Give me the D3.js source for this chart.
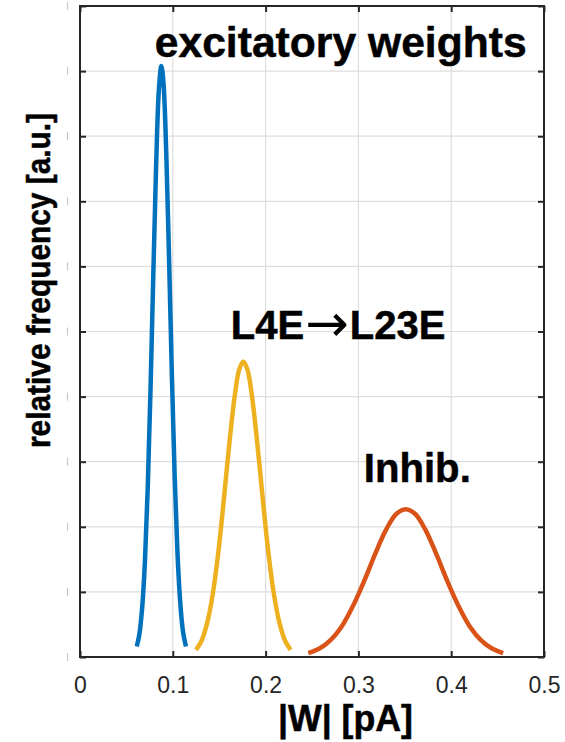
<!DOCTYPE html>
<html>
<head>
<meta charset="utf-8">
<script src="https://cdn.jsdelivr.net/npm/d3@7"></script>
<style>
  body { margin: 0; background: #fff; }
  svg { display: block; }
  text { font-family: "Liberation Sans", Arial, Helvetica, sans-serif; }
</style>
</head>
<body>
<svg id="chart" width="565" height="742"></svg>
<script>
// ---- data ----
const xTicks = [0, 0.1, 0.2, 0.3, 0.4, 0.5];
const xTickLabels = ["0", "0.1", "0.2", "0.3", "0.4", "0.5"];
const yTicks = [0, 0.1, 0.2, 0.3, 0.4, 0.5, 0.6, 0.7, 0.8, 0.9, 1];

const excX = [0.0612, 0.064, 0.067, 0.070, 0.073, 0.076, 0.079, 0.082, 0.085, 0.0877, 0.090, 0.093, 0.096, 0.099, 0.102, 0.105, 0.108, 0.111, 0.1142];
const excY = [0.016, 0.035, 0.076, 0.148, 0.260, 0.412, 0.587, 0.753, 0.871, 0.908, 0.881, 0.772, 0.610, 0.434, 0.278, 0.161, 0.084, 0.039, 0.016];

const l4X = [0.125, 0.131, 0.137, 0.143, 0.149, 0.155, 0.161, 0.167, 0.1715, 0.176, 0.1805, 0.185, 0.191, 0.197, 0.203, 0.209, 0.215, 0.221, 0.227];
const l4Y = [0.011, 0.025, 0.052, 0.096, 0.160, 0.242, 0.329, 0.404, 0.441, 0.454, 0.441, 0.404, 0.329, 0.242, 0.160, 0.096, 0.052, 0.025, 0.011];

const inhX = [0.246, 0.258, 0.270, 0.282, 0.294, 0.306, 0.318, 0.330, 0.341, 0.351, 0.361, 0.372, 0.384, 0.396, 0.408, 0.420, 0.432, 0.444, 0.456];
const inhY = [0.006, 0.013, 0.026, 0.047, 0.078, 0.116, 0.158, 0.196, 0.220, 0.227, 0.220, 0.196, 0.158, 0.116, 0.078, 0.047, 0.026, 0.013, 0.006];

const seriesNames = ["excitatory", "L4E->L23E", "Inhib"];
const seriesColors = ["#0072BD", "#EDB120", "#D95319"];

const annoX = [0.0805, 0.1625, 0.3058];
const annoY = [0.921, 0.489, 0.269];

// ---- layout ----
const svg = d3.select("#chart");
const L = 80, R = 544, T = 6, B = 657;
const x = d3.scaleLinear().domain([0, 0.5]).range([L, R]);
const y = d3.scaleLinear().domain([0, 1]).range([B, T]);
const axisColor = "#262626";
const gridColor = "#dedede";

// grid
const g = svg.append("g");
g.selectAll(".vg").data(xTicks.slice(1, -1)).join("line")
  .attr("x1", d => x(d)).attr("x2", d => x(d)).attr("y1", T).attr("y2", B)
  .attr("stroke", gridColor).attr("stroke-width", 1.2);
g.selectAll(".hg").data(yTicks.slice(1, -1)).join("line")
  .attr("y1", d => y(d)).attr("y2", d => y(d)).attr("x1", L).attr("x2", R)
  .attr("stroke", gridColor).attr("stroke-width", 1.2);

// curves
const line = d3.line().x(d => x(d[0])).y(d => y(d[1])).curve(d3.curveCatmullRom.alpha(0.5));
const allSeries = [d3.zip(excX, excY), d3.zip(l4X, l4Y), d3.zip(inhX, inhY)];
svg.selectAll(".curve").data(allSeries).join("path")
  .attr("d", line).attr("fill", "none")
  .attr("stroke", (d, i) => seriesColors[i]).attr("stroke-width", 4.5)
  .attr("stroke-linejoin", "round");

// axes (box with inward ticks)
const tickLen = 6;
const ax = svg.append("g");
ax.append("g").attr("transform", `translate(0,${B})`)
  .call(d3.axisBottom(x).tickValues(xTicks).tickSize(-tickLen).tickFormat((d, i) => xTickLabels[i]).tickPadding(20))
  .call(s => s.select(".domain").remove());
ax.append("g").attr("transform", `translate(0,${T})`)
  .call(d3.axisTop(x).tickValues(xTicks).tickSize(-tickLen).tickFormat(""))
  .call(s => s.select(".domain").remove());
ax.append("g").attr("transform", `translate(${L},0)`)
  .call(d3.axisLeft(y).tickValues(yTicks).tickSize(-tickLen).tickFormat(""))
  .call(s => s.select(".domain").remove());
ax.append("g").attr("transform", `translate(${R},0)`)
  .call(d3.axisRight(y).tickValues(yTicks).tickSize(-tickLen).tickFormat(""))
  .call(s => s.select(".domain").remove());
ax.selectAll(".tick line").attr("stroke", axisColor).attr("stroke-width", 2);
ax.selectAll(".tick text").attr("fill", axisColor).style("font-size", "23px")
  .style("font-family", "'Liberation Sans', Arial, sans-serif");
ax.append("rect").attr("x", L).attr("y", T).attr("width", R - L).attr("height", B - T)
  .attr("fill", "none").attr("stroke", axisColor).attr("stroke-width", 2);

// clipped y tick label remnants (faint slivers)
svg.selectAll(".ysliver").data(yTicks).join("line")
  .attr("x1", 67.5).attr("x2", 67.5)
  .attr("y1", d => y(d) - 4).attr("y2", d => y(d) + 4)
  .attr("stroke", "#c8c8c8").attr("stroke-width", 1.2);

// heavy bold text helper
function bold(sel) {
  return sel.style("font-weight", "bold").attr("fill", "#000")
    .attr("stroke", "#000").attr("stroke-width", 0.5).attr("paint-order", "stroke");
}

// axis labels
bold(svg.append("text").attr("x", 345.5).attr("y", 731).attr("text-anchor", "middle")
  .style("font-size", "36px").attr("textLength", 135).attr("lengthAdjust", "spacingAndGlyphs")
  .text("|W| [pA]"));
bold(svg.append("text").attr("transform", "translate(50,280.5) rotate(-90)").attr("text-anchor", "middle")
  .style("font-size", "34px").attr("textLength", 335).attr("lengthAdjust", "spacingAndGlyphs")
  .text("relative frequency [a.u.]"));

// annotations
bold(svg.append("text").attr("x", x(annoX[0])).attr("y", y(annoY[0]))
  .style("font-size", "42px").attr("textLength", 372).attr("lengthAdjust", "spacingAndGlyphs")
  .text("excitatory weights"));

const t2 = bold(svg.append("text").attr("x", x(annoX[1])).attr("y", y(annoY[1])).style("font-size", "40px"));
t2.append("tspan").text("L4E");
t2.append("tspan").style("font-family", "'DejaVu Sans', sans-serif").style("font-weight", "normal")
  .style("font-size", "52px").attr("stroke-width", 0).attr("dx", 1).attr("dy", 2).text("\u2192");
t2.append("tspan").attr("dx", 1).attr("dy", -2).text("L23E");

bold(svg.append("text").attr("x", x(annoX[2])).attr("y", y(annoY[2]))
  .style("font-size", "40px").attr("textLength", 107).attr("lengthAdjust", "spacingAndGlyphs")
  .text("Inhib."));
</script>
</body>
</html>
